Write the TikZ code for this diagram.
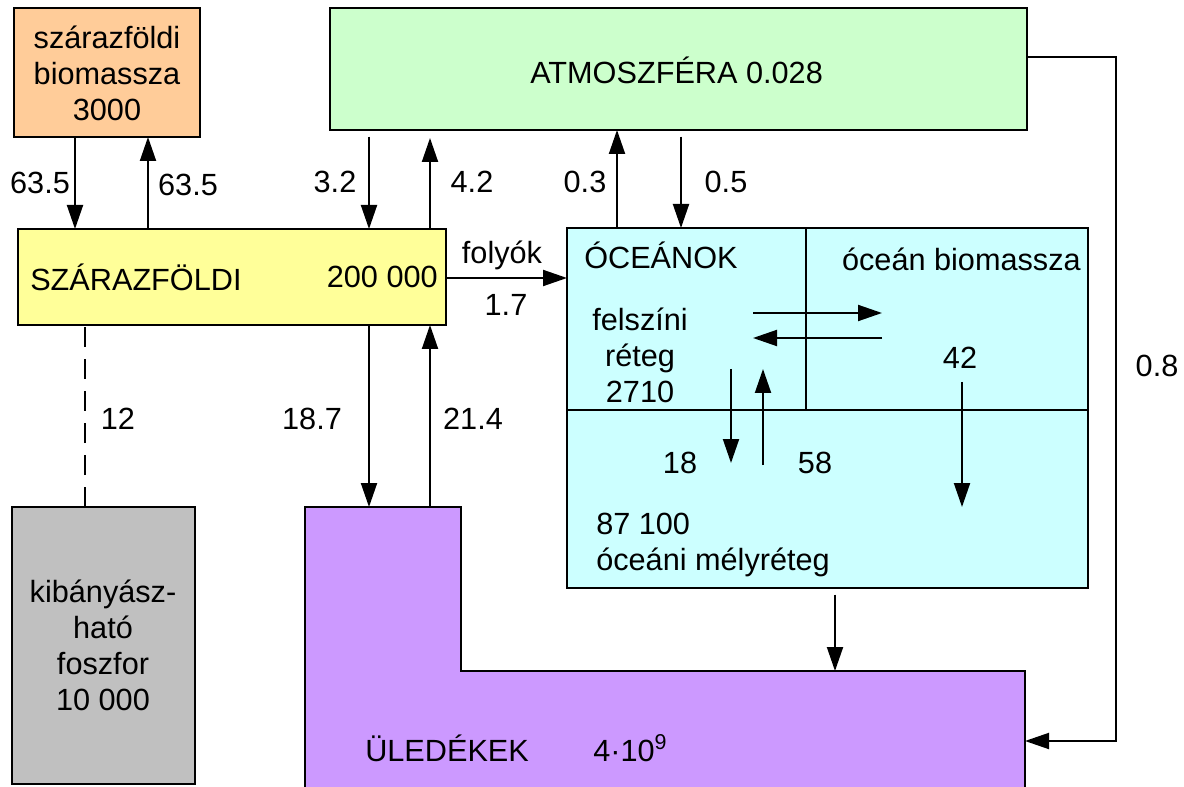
\documentclass[tikz,border=0pt]{standalone}
\usepackage{fontspec}
\setmainfont{Liberation Sans}
\usetikzlibrary{arrows.meta,fit}
\definecolor{cOrange}{HTML}{FFCC99}
\definecolor{cGreen}{HTML}{CCFFCC}
\definecolor{cYellow}{HTML}{FFFF99}
\definecolor{cCyan}{HTML}{CCFFFF}
\definecolor{cGray}{HTML}{C0C0C0}
\definecolor{cPurple}{HTML}{CC99FF}
\tikzset{
  box/.style={draw=black, line width=1.6pt, inner sep=0pt, outer sep=0pt},
  txt/.style={inner sep=0pt, font=\fontsize{23}{27}\selectfont, align=center},
  arr/.style={-{Triangle[length=18pt,width=12pt]}, line width=1.5pt},
  ln/.style={line width=1.5pt},
  dsh/.style={line width=1.5pt, dash pattern=on 15pt off 9pt}
}
\begin{document}
\begin{tikzpicture}[x=0.75pt,y=-0.75pt]
\useasboundingbox (0,0) rectangle (1184,787);
% boxes
\node[box, fill=cOrange, fit={(14,8) (200,137)}] (orange) {};
\node[box, fill=cGreen, fit={(330,8) (1027,130)}] (atm) {};
\node[box, fill=cYellow, fit={(18,229) (446,325)}] (yellow) {};
\node[box, fill=cCyan, fit={(567,228) (1088,588)}] (ocean) {};
\node[box, fill=cGray, fit={(12,507) (195,784)}] (gray) {};
% purple L shape
\coordinate (pBL) at (305,790);
\coordinate (pTL) at (305,507);
\coordinate (pTR) at (461,507);
\coordinate (pStep) at (461,671);
\coordinate (pR) at (1025,671);
\coordinate (pBR) at (1025,790);
\fill[cPurple] (pBL) -- (pTL) -- (pTR) -- (pStep) -- (pR) -- (pBR) -- cycle;
\draw[line width=1.6pt] (pBL) -- (pTL) -- (pTR) -- (pStep) -- (pR) -- (pBR);
% ocean dividers
\coordinate (divTop) at (806,228);
\coordinate (divMid) at (806,410);
\coordinate (hL) at (567,410);
\coordinate (hR) at (1088,410);
\draw[line width=1.6pt] (divTop) -- (divMid);
\draw[line width=1.6pt] (hL) -- (hR);
% texts
\node[txt] (t1) at (107,73) {szárazföldi\\biomassza\\3000};
\node[txt, anchor=west] (t2) at (530,70) {ATMOSZFÉRA 0.028};
\node[txt] (l1) at (40,183) {63.5};
\node[txt] (l2) at (188,185) {63.5};
\node[txt] (l3) at (335,182) {3.2};
\node[txt] (l4) at (472,182) {4.2};
\node[txt] (l5) at (585,182) {0.3};
\node[txt] (l6) at (726,182) {0.5};
\node[txt, anchor=west] (t3) at (30,277) {SZÁRAZFÖLDI};
\node[txt, anchor=east] (t4) at (438,277) {200 000};
\node[txt] (l7) at (502,255) {folyók};
\node[txt] (l8) at (506,305) {1.7};
\node[txt, anchor=west] (t5) at (584,255) {ÓCEÁNOK};
\node[txt, anchor=east] (t6) at (1081,259) {óceán biomassza};
\node[txt] (t7) at (640,355) {felszíni\\réteg\\2710};
\node[txt] (l9) at (960,358) {42};
\node[txt] (l10) at (680,463) {18};
\node[txt] (l11) at (815,463) {58};
\node[txt, anchor=west] (t8) at (596,524) {87 100};
\node[txt, anchor=west] (t9) at (596,562) {óceáni mélyréteg};
\node[txt] (l12) at (1157,366) {0.8};
\node[txt] (l13) at (118,419) {12};
\node[txt] (l14) at (312,419) {18.7};
\node[txt] (l15) at (473,419) {21.4};
\node[txt] (t10) at (103,645) {kibányász-\\ható\\foszfor\\10 000};
\node[txt, anchor=west] (t11) at (365,748) {ÜLEDÉKEK};
\node[txt, anchor=west] (t12) at (593,748) {4·10\textsuperscript{9}};
% connectors top
\draw[arr] (75,0 |- orange.south) -- (75,0 |- yellow.north);
\draw[arr] (148,0 |- yellow.north) -- (148,0 |- orange.south);
\draw[arr, shorten <=5pt] (369,0 |- atm.south) -- (369,0 |- yellow.north);
\draw[arr, shorten >=6pt] (430,0 |- yellow.north) -- (430,0 |- atm.south);
\draw[arr] (617,0 |- ocean.north) -- (617,0 |- atm.south);
\draw[arr, shorten <=5pt] (681,0 |- atm.south) -- (681,0 |- ocean.north);
\draw[arr] (yellow.east |- 0,278) -- (ocean.west |- 0,278);
% connectors bottom
\draw[arr] (369,0 |- yellow.south) -- (369,0 |- pTL);
\draw[arr] (430,0 |- pTL) -- (430,0 |- yellow.south);
\draw[dsh] (85,0 |- gray.north) -- (85,0 |- yellow.south);
% ocean internal
\coordinate (a1) at (753,313); \coordinate (a2) at (882,313);
\coordinate (b1) at (882,338); \coordinate (b2) at (753,338);
\coordinate (c1) at (731,369); \coordinate (c2) at (731,463);
\coordinate (d1) at (763,465); \coordinate (d2) at (763,369);
\coordinate (e1) at (962,382); \coordinate (e2) at (962,507);
\draw[arr] (a1) -- (a2);
\draw[arr] (b1) -- (b2);
\draw[arr] (c1) -- (c2);
\draw[arr] (d1) -- (d2);
\draw[arr] (e1) -- (e2);
\draw[arr, shorten <=5pt] (835,0 |- ocean.south) -- (835,0 |- pR);
% 0.8 path
\coordinate (r1) at (1116,57);
\coordinate (r2) at (1116,741);
\coordinate (r3) at (1025,741);
\draw[arr] (atm.east |- r1) -- (r1) -- (r2) -- (r3);
\end{tikzpicture}
\end{document}
